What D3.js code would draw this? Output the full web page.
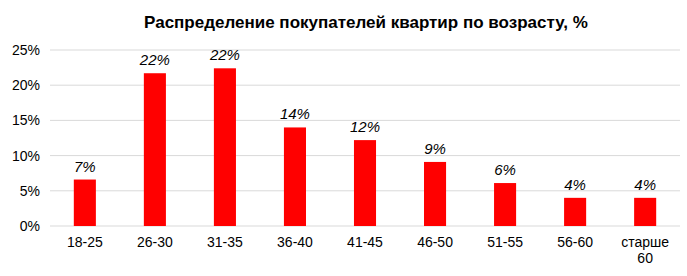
<!DOCTYPE html>
<html>
<head>
<meta charset="utf-8">
<script src="https://cdn.jsdelivr.net/npm/d3@7"></script>
<style>
body { margin: 0; background: #fff; }
text { font-family: "Liberation Sans", Arial, sans-serif; }
</style>
</head>
<body>
<svg id="chart" width="687" height="276"></svg>
<script>
var categories = ["18-25", "26-30", "31-35", "36-40", "41-45", "46-50", "51-55", "56-60", "старше 60"];
var values = [6.6, 21.7, 22.4, 14.0, 12.2, 9.1, 6.1, 4.0, 4.0];
var labels = ["7%", "22%", "22%", "14%", "12%", "9%", "6%", "4%", "4%"];
var yTicks = [0, 5, 10, 15, 20, 25];

var svg = d3.select("#chart"),
    margin = {top: 50, right: 7, bottom: 50, left: 50},
    width = +svg.attr("width") - margin.left - margin.right,
    height = +svg.attr("height") - margin.top - margin.bottom;

svg.append("text")
    .attr("x", 366)
    .attr("y", 28)
    .attr("text-anchor", "middle")
    .style("font-weight", "bold")
    .style("font-size", "17px")
    .text("Распределение покупателей квартир по возрасту, %");

var g = svg.append("g").attr("transform", "translate(" + margin.left + "," + margin.top + ")");

var x = d3.scaleBand().domain(categories).range([0, width]).paddingInner(0.685).paddingOuter(0.34);
var y = d3.scaleLinear().domain([0, 25]).range([height, 0]);

// grid
g.selectAll(".grid")
    .data(yTicks)
    .enter().append("line")
    .attr("x1", 0)
    .attr("x2", width)
    .attr("y1", function (d) { return y(d); })
    .attr("y2", function (d) { return y(d); })
    .attr("stroke", "#d9d9d9")
    .attr("stroke-width", 1);

var yAxis = g.append("g")
    .call(d3.axisLeft(y).tickValues(yTicks).tickFormat(function (d) { return d + "%"; }).tickSize(0).tickPadding(10));
yAxis.select(".domain").remove();
yAxis.selectAll("text").style("font-size", "14px").attr("fill", "#000")
    .style("font-family", "'Liberation Sans', Arial, sans-serif");

g.selectAll(".bar")
    .data(values)
    .enter().append("rect")
    .attr("x", function (d, i) { return x(categories[i]); })
    .attr("y", function (d) { return y(d); })
    .attr("width", x.bandwidth())
    .attr("height", function (d) { return height - y(d); })
    .attr("fill", "#ff0000");

g.selectAll(".lbl")
    .data(values)
    .enter().append("text")
    .attr("x", function (d, i) { return x(categories[i]) + x.bandwidth() / 2; })
    .attr("y", function (d) { return y(d) - 8; })
    .attr("text-anchor", "middle")
    .style("font-style", "italic")
    .style("font-size", "15px")
    .text(function (d, i) { return labels[i]; });

var xAxis = g.append("g")
    .attr("transform", "translate(0," + height + ")")
    .call(d3.axisBottom(x).tickSize(0).tickPadding(11));
xAxis.select(".domain").remove();
xAxis.selectAll("text").style("font-size", "14px").attr("fill", "#000")
    .style("font-family", "'Liberation Sans', Arial, sans-serif")
    .each(function (d) {
        var words = d.split(" ");
        if (words.length > 1) {
            var t = d3.select(this).text(null);
            words.forEach(function (w, k) {
                t.append("tspan").attr("x", 0).attr("dy", k === 0 ? "0.71em" : "1.15em").text(w);
            });
        }
    });
</script>
</body>
</html>
